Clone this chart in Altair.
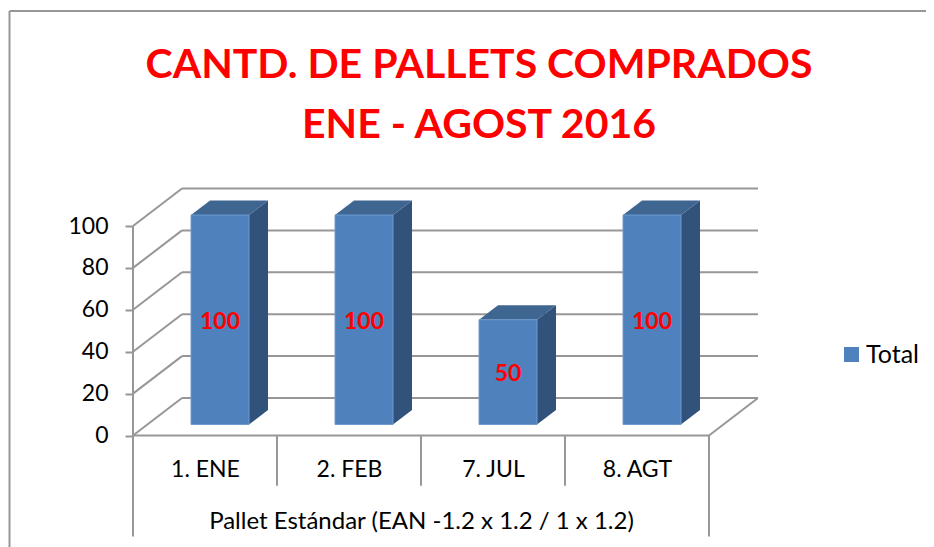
import altair as alt
import pandas as pd

categories = ["1. ENE", "2. FEB", "7. JUL", "8. AGT"]
values = [100, 100, 50, 100]
series_name = "Total"
y_ticks = [0, 20, 40, 60, 80, 100]
group_label = "Pallet Estándar (EAN -1.2 x 1.2 / 1 x 1.2)"
title_lines = ["CANTD. DE PALLETS COMPRADOS", "ENE - AGOST 2016"]

BLUE, SIDE, TOP = "#4F81BD", "#31527A", "#3F6591"
GREY, RED = "#979797", "#FF0000"
FONT = "Lato"

# scale geometry: one category = 144 px, one value unit = 2.095 px
PX_CAT, PX_VAL = 144.0, 2.095
W, H = 917, 536
VIEW_X, VIEW_Y = 9, 11
AXIS_X, AXIS_Y = 133, 435.5
x_dom = [(VIEW_X - AXIS_X) / PX_CAT, (VIEW_X + W - AXIS_X) / PX_CAT]
y_dom = [(AXIS_Y - VIEW_Y - H) / PX_VAL, (AXIS_Y - VIEW_Y) / PX_VAL]
n = len(categories)
WALL_X, WALL_Y = 49 / PX_CAT, 37.5 / PX_VAL      # depth of the box
BAR_OX, BAR_OY = 58 / PX_CAT, 11 / PX_VAL         # bar front offset from the axis corner
BAR_W = 58 / PX_CAT
BAR_DX, BAR_DY = 19 / PX_CAT, 14.5 / PX_VAL       # depth of a bar
LOW1, LOW2 = -24, y_dom[0] + 5

segs = []
def seg(x0, y0, x1, y1):
    k = len(segs) // 2
    segs.extend([dict(seg=k, x=x0, y=y0), dict(seg=k, x=x1, y=y1)])

seg(x_dom[0] + 0.5 / PX_CAT, y_dom[1], x_dom[1], y_dom[1])      # chart frame top
seg(x_dom[0] + 0.5 / PX_CAT, y_dom[1], x_dom[0] + 0.5 / PX_CAT, y_dom[0])  # chart frame left
for v in y_ticks:
    seg(0, v, WALL_X, v + WALL_Y)
    seg(WALL_X, v + WALL_Y, n + WALL_X, v + WALL_Y)
seg(0, 0, n, 0)
seg(n, 0, n + WALL_X, WALL_Y)
seg(0, y_ticks[-1], 0, LOW2)
seg(n, 0, n, LOW2)
for i in range(1, n):
    seg(i, 0, i, LOW1)
seg_df = pd.DataFrame(segs)

front, side, top, lab = [], [], [], []
for i, (c, v) in enumerate(zip(categories, values)):
    xl = i + BAR_OX
    xr = xl + BAR_W
    front.append(dict(cat=c, series=series_name, x=xl, x2=xr, y=BAR_OY, y2=BAR_OY + v))
    side.append(dict(cat=c, x=xr, y=BAR_OY, y2=BAR_OY + v))
    side.append(dict(cat=c, x=xr + BAR_DX, y=BAR_OY + BAR_DY, y2=BAR_OY + BAR_DY + v))
    top.append(dict(cat=c, y=BAR_OY + v, x=xl, x2=xr))
    top.append(dict(cat=c, y=BAR_OY + v + BAR_DY, x=xl + BAR_DX, x2=xr + BAR_DX))
    lab.append(dict(cat=c, x=(xl + xr) / 2, y=BAR_OY + v / 2, v=v))

sx = alt.Scale(domain=x_dom, nice=False, zero=False)
sy = alt.Scale(domain=y_dom, nice=False, zero=False)
cat_expr = "[" + ",".join(f"'{c}'" for c in categories) + "][floor(datum.value)]"
x_axis = alt.Axis(
    values=[i + 0.5 for i in range(n)], labelExpr=cat_expr, orient="bottom",
    offset=-(VIEW_Y + H - AXIS_Y), domain=False, ticks=False, grid=False,
    labelFont=FONT, labelFontSize=23, labelColor="#000000", labelPadding=23,
    labelOverlap=False, labelFlush=False,
    title=group_label, titleFont=FONT, titleFontSize=24, titleFontWeight="normal",
    titleColor="#000000", titlePadding=28, titleX=421 - VIEW_X,
)
y_axis = alt.Axis(
    values=y_ticks, orient="left", offset=-(AXIS_X - VIEW_X), domain=False,
    grid=False, tickSize=8, tickColor=GREY, tickWidth=2, labelPadding=17,
    labelFont=FONT, labelFontSize=23, labelColor="#000000", title=None,
)
X = alt.X("x:Q", scale=sx, axis=x_axis)
Y = alt.Y("y:Q", scale=sy, axis=y_axis)

lines = alt.Chart(seg_df).mark_line(color=GREY, strokeWidth=2, clip=False).encode(
    x=X, y=Y, detail="seg:N")
sides = alt.Chart(pd.DataFrame(side)).mark_area(color=SIDE, orient="vertical").encode(
    x=X, y=Y, y2="y2:Q", detail="cat:N")
tops = alt.Chart(pd.DataFrame(top)).mark_area(color=TOP, orient="horizontal").encode(
    y=Y, x=X, x2="x2:Q", detail="cat:N")
fronts = alt.Chart(pd.DataFrame(front)).mark_bar(stroke="#6F9BD0", strokeWidth=1).encode(
    x=X, x2="x2:Q", y=Y, y2="y2:Q",
    color=alt.Color("series:N", scale=alt.Scale(range=[BLUE]), legend=alt.Legend(
        title=None, orient="none", legendX=839 - VIEW_X, legendY=342 - VIEW_Y,
        symbolType="square", symbolSize=225, symbolStrokeWidth=0, symbolOpacity=1,
        labelFont=FONT, labelFontSize=25, labelColor="#000000", labelOffset=2,
    )),
)
labels = alt.Chart(pd.DataFrame(lab)).mark_text(
    font=FONT, fontSize=23, fontWeight="bold", color=RED, baseline="middle", dy=2).encode(
    x=X, y=Y, text="v:Q")

chart = alt.layer(lines, sides, tops, fronts, labels).properties(
    width=W, height=H,
    title=alt.TitleParams(
        text=title_lines, font=FONT, fontSize=41, fontWeight="bold", color=RED,
        anchor="middle", dx=11.5, dy=185, lineHeight=60, baseline="bottom",
    ),
    autosize=alt.AutoSizeParams(type="none"),
    padding={"left": VIEW_X - 8, "top": VIEW_Y - 8, "right": 0, "bottom": 0},
).configure_view(stroke=None)

chart.save("out.html", embed_options={"renderer": "svg", "actions": False})
